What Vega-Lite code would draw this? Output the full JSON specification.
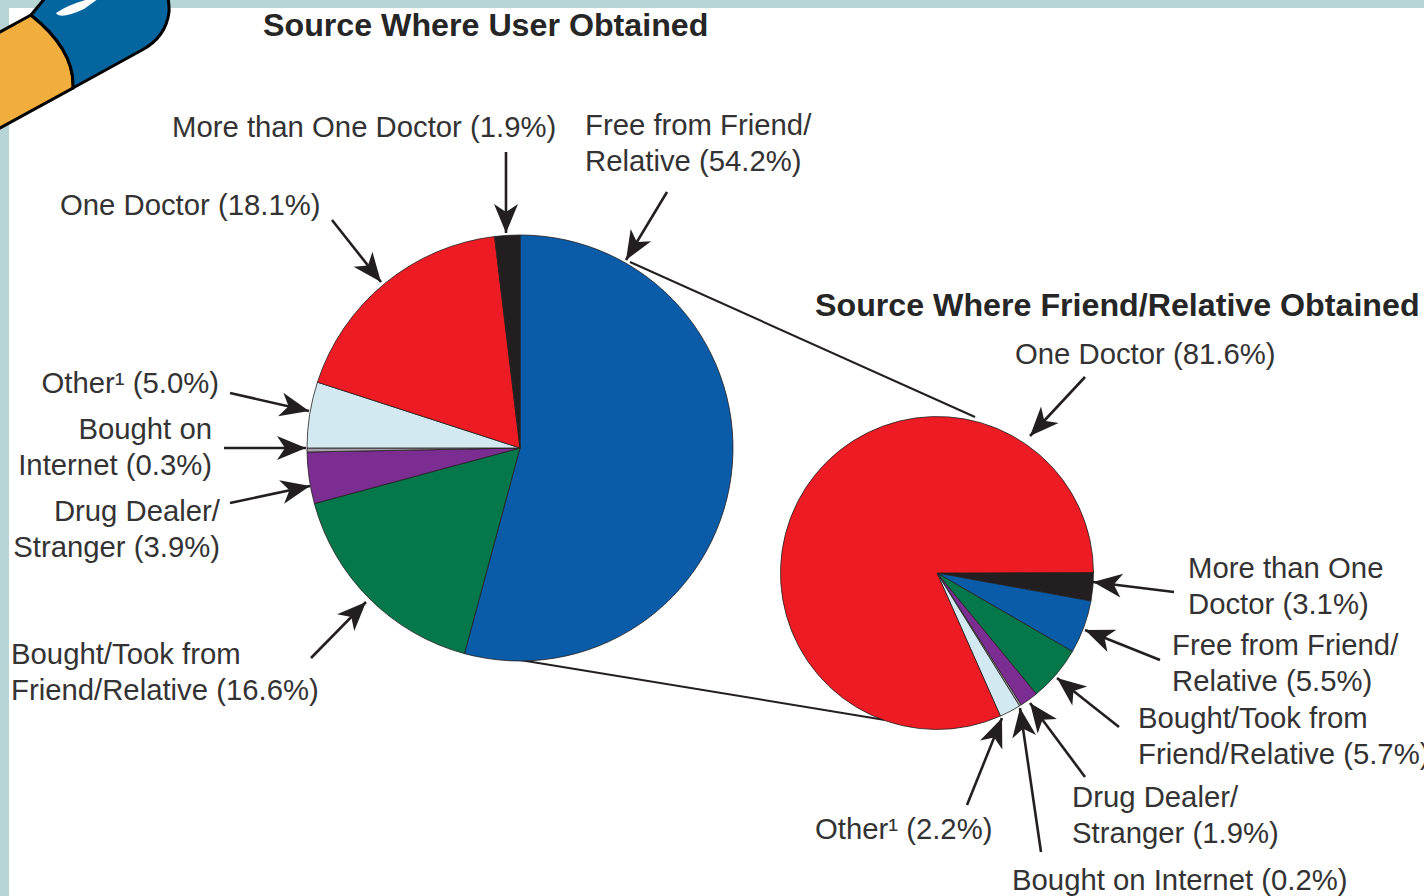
{
  "$schema": "https://vega.github.io/schema/vega-lite/v6.json",
  "width": 1424,
  "height": 896,
  "autosize": {"type": "none"},
  "padding": 0,
  "background": "#b7d5d5",
  "view": {"stroke": null},
  "datasets": {
    "userSources": [
      {"source": "Free from Friend/Relative", "share": 54.2, "order": 1},
      {"source": "Bought/Took from Friend/Relative", "share": 16.6, "order": 2},
      {"source": "Drug Dealer/Stranger", "share": 3.9, "order": 3},
      {"source": "Bought on Internet", "share": 0.3, "order": 4},
      {"source": "Other", "share": 5.0, "order": 5},
      {"source": "One Doctor", "share": 18.1, "order": 6},
      {"source": "More than One Doctor", "share": 1.9, "order": 7}
    ],
    "friendSources": [
      {"source": "More than One Doctor", "share": 3.1, "order": 1},
      {"source": "Free from Friend/Relative", "share": 5.5, "order": 2},
      {"source": "Bought/Took from Friend/Relative", "share": 5.7, "order": 3},
      {"source": "Drug Dealer/Stranger", "share": 1.9, "order": 4},
      {"source": "Bought on Internet", "share": 0.2, "order": 5},
      {"source": "Other", "share": 2.2, "order": 6},
      {"source": "One Doctor", "share": 81.6, "order": 7}
    ],
    "connectors": [
      {"fromX": 630, "fromY": 262, "toX": 975, "toY": 417},
      {"fromX": 520, "fromY": 660, "toX": 885, "toY": 720}
    ],
    "arrows": [
      {"fromX": 506, "fromY": 152, "toX": 506, "toY": 233},
      {"fromX": 667, "fromY": 192, "toX": 626, "toY": 260},
      {"fromX": 332, "fromY": 220, "toX": 381, "toY": 282},
      {"fromX": 230, "fromY": 393, "toX": 309, "toY": 411},
      {"fromX": 224, "fromY": 448, "toX": 306, "toY": 448},
      {"fromX": 230, "fromY": 503, "toX": 310, "toY": 486},
      {"fromX": 311, "fromY": 658, "toX": 366, "toY": 602},
      {"fromX": 1085, "fromY": 377, "toX": 1030, "toY": 436},
      {"fromX": 1174, "fromY": 592, "toX": 1093, "toY": 582},
      {"fromX": 1160, "fromY": 660, "toX": 1085, "toY": 630},
      {"fromX": 1119, "fromY": 727, "toX": 1057, "toY": 678},
      {"fromX": 1085, "fromY": 777, "toX": 1030, "toY": 703},
      {"fromX": 1041, "fromY": 852, "toX": 1020, "toY": 708},
      {"fromX": 967, "fromY": 805, "toX": 1002, "toY": 718}
    ],
    "labelsLeft": [
      {"label": "More than One Doctor (1.9%)", "x": 172, "y": 128},
      {"label": "Free from Friend/\nRelative (54.2%)", "x": 585, "y": 126},
      {"label": "One Doctor (18.1%)", "x": 60, "y": 206},
      {"label": "Bought/Took from\nFriend/Relative (16.6%)", "x": 11, "y": 655},
      {"label": "One Doctor (81.6%)", "x": 1015, "y": 355},
      {"label": "More than One\nDoctor (3.1%)", "x": 1188, "y": 569},
      {"label": "Free from Friend/\nRelative (5.5%)", "x": 1172, "y": 646},
      {"label": "Bought/Took from\nFriend/Relative (5.7%)", "x": 1138, "y": 719},
      {"label": "Drug Dealer/\nStranger (1.9%)", "x": 1072, "y": 798},
      {"label": "Other¹ (2.2%)", "x": 815, "y": 830},
      {"label": "Bought on Internet (0.2%)", "x": 1012, "y": 881}
    ],
    "labelsRight": [
      {"label": "Other¹ (5.0%)", "x": 219, "y": 384},
      {"label": "Bought on\nInternet (0.3%)", "x": 212, "y": 430},
      {"label": "Drug Dealer/\nStranger (3.9%)", "x": 220, "y": 512}
    ],
    "titles": [
      {"label": "Source Where User Obtained", "x": 263, "y": 26},
      {"label": "Source Where Friend/Relative Obtained", "x": 815, "y": 306}
    ]
  },
  "resolve": {"scale": {"theta": "independent"}},
  "layer": [
    {
      "data": {"values": [{"x0": 9, "x1": 1424, "y0": 8, "y1": 896}]},
      "mark": {"type": "rect", "color": "#ffffff"},
      "encoding": {
        "x": {"field": "x0", "type": "quantitative", "scale": {"domain": [0, 1424], "nice": false, "zero": false}, "axis": null},
        "x2": {"field": "x1"},
        "y": {"field": "y0", "type": "quantitative", "scale": {"domain": [0, 896], "reverse": true, "nice": false, "zero": false}, "axis": null},
        "y2": {"field": "y1"}
      }
    },
    {
      "description": "Capsule emblem, orange half",
      "data": {"values": [{"part": "capsule"}]},
      "mark": {"type": "point", "filled": true, "opacity": 1, "size": 4, "color": "#f2ae3d", "stroke": "#000000", "strokeWidth": 3, "shape": "M-20,139 L73,88 Q75,50 31,15 L-20,43 Z"},
      "encoding": {"x": {"datum": 0, "type": "quantitative"}, "y": {"datum": 0, "type": "quantitative"}}
    },
    {
      "description": "Capsule emblem, blue half",
      "data": {"values": [{"part": "capsule"}]},
      "mark": {"type": "point", "filled": true, "opacity": 1, "size": 4, "color": "#05659f", "stroke": "#000000", "strokeWidth": 3, "shape": "M31,15 Q75,50 73,88 L142,50 Q166,37 169,12 Q170,-5 160,-20 L60,-20 Z"},
      "encoding": {"x": {"datum": 0, "type": "quantitative"}, "y": {"datum": 0, "type": "quantitative"}}
    },
    {
      "description": "Capsule emblem, highlight",
      "data": {"values": [{"part": "capsule"}]},
      "mark": {"type": "point", "filled": true, "opacity": 1, "size": 4, "color": "#ffffff", "strokeWidth": 0, "shape": "M56,13 Q72,2 102,-4 L84,9 Q60,20 56,13 Z"},
      "encoding": {"x": {"datum": 0, "type": "quantitative"}, "y": {"datum": 0, "type": "quantitative"}}
    },
    {
      "data": {"name": "connectors"},
      "mark": {"type": "rule", "color": "#231f20", "strokeWidth": 2},
      "encoding": {
        "x": {"field": "fromX", "type": "quantitative"},
        "y": {"field": "fromY", "type": "quantitative"},
        "x2": {"field": "toX"},
        "y2": {"field": "toY"}
      }
    },
    {
      "data": {"name": "userSources"},
      "transform": [{"stack": "share", "sort": [{"field": "order", "order": "ascending"}], "as": ["start", "end"]}],
      "mark": {"type": "arc", "radius": 213, "stroke": "#231f20", "strokeWidth": 0.8},
      "encoding": {
        "x": {"datum": 520, "type": "quantitative"},
        "y": {"datum": 448, "type": "quantitative"},
        "theta": {"field": "start", "type": "quantitative", "scale": {"domain": [0, 100], "range": [0, 6.28319]}},
        "theta2": {"field": "end"},
        "color": {
          "field": "source",
          "type": "nominal",
          "legend": null,
          "scale": {
            "domain": ["Free from Friend/Relative", "Bought/Took from Friend/Relative", "Drug Dealer/Stranger", "Bought on Internet", "Other", "One Doctor", "More than One Doctor"],
            "range": ["#0a5ba8", "#04784a", "#7b2d92", "#a49fa8", "#d2e9f1", "#ed1c24", "#231f20"]
          }
        }
      }
    },
    {
      "data": {"name": "friendSources"},
      "transform": [{"stack": "share", "sort": [{"field": "order", "order": "ascending"}], "as": ["start", "end"]}],
      "mark": {"type": "arc", "radius": 156.5, "stroke": "#231f20", "strokeWidth": 0.8},
      "encoding": {
        "x": {"datum": 937, "type": "quantitative"},
        "y": {"datum": 573, "type": "quantitative"},
        "theta": {"field": "start", "type": "quantitative", "scale": {"domain": [0, 100], "range": [1.5558, 7.83898]}},
        "theta2": {"field": "end"},
        "color": {"field": "source", "type": "nominal", "legend": null}
      }
    },
    {
      "data": {"name": "arrows"},
      "mark": {"type": "rule", "color": "#231f20", "strokeWidth": 2.6},
      "encoding": {
        "x": {"field": "fromX", "type": "quantitative"},
        "y": {"field": "fromY", "type": "quantitative"},
        "x2": {"field": "toX"},
        "y2": {"field": "toY"}
      }
    },
    {
      "data": {"name": "arrows"},
      "transform": [{"calculate": "(atan2(datum.toX - datum.fromX, datum.fromY - datum.toY) * 180 / PI + 360) % 360", "as": "heading"}],
      "mark": {"type": "point", "filled": true, "opacity": 1, "size": 4, "color": "#231f20", "strokeWidth": 0, "shape": "M0,0 L12,29 L0,21 L-12,29 Z"},
      "encoding": {
        "x": {"field": "toX", "type": "quantitative"},
        "y": {"field": "toY", "type": "quantitative"},
        "angle": {"field": "heading", "type": "quantitative", "scale": null}
      }
    },
    {
      "data": {"name": "labelsLeft"},
      "mark": {"type": "text", "align": "left", "baseline": "middle", "font": "Liberation Sans", "fontSize": 29.3, "lineHeight": 35.5, "lineBreak": "\n", "color": "#333333"},
      "encoding": {
        "x": {"field": "x", "type": "quantitative"},
        "y": {"field": "y", "type": "quantitative"},
        "text": {"field": "label", "type": "nominal"}
      }
    },
    {
      "data": {"name": "labelsRight"},
      "mark": {"type": "text", "align": "right", "baseline": "middle", "font": "Liberation Sans", "fontSize": 29.3, "lineHeight": 35.5, "lineBreak": "\n", "color": "#333333"},
      "encoding": {
        "x": {"field": "x", "type": "quantitative"},
        "y": {"field": "y", "type": "quantitative"},
        "text": {"field": "label", "type": "nominal"}
      }
    },
    {
      "data": {"name": "titles"},
      "mark": {"type": "text", "align": "left", "baseline": "middle", "font": "Liberation Sans", "fontWeight": "bold", "fontSize": 32.2, "color": "#262626"},
      "encoding": {
        "x": {"field": "x", "type": "quantitative"},
        "y": {"field": "y", "type": "quantitative"},
        "text": {"field": "label", "type": "nominal"}
      }
    }
  ]
}
